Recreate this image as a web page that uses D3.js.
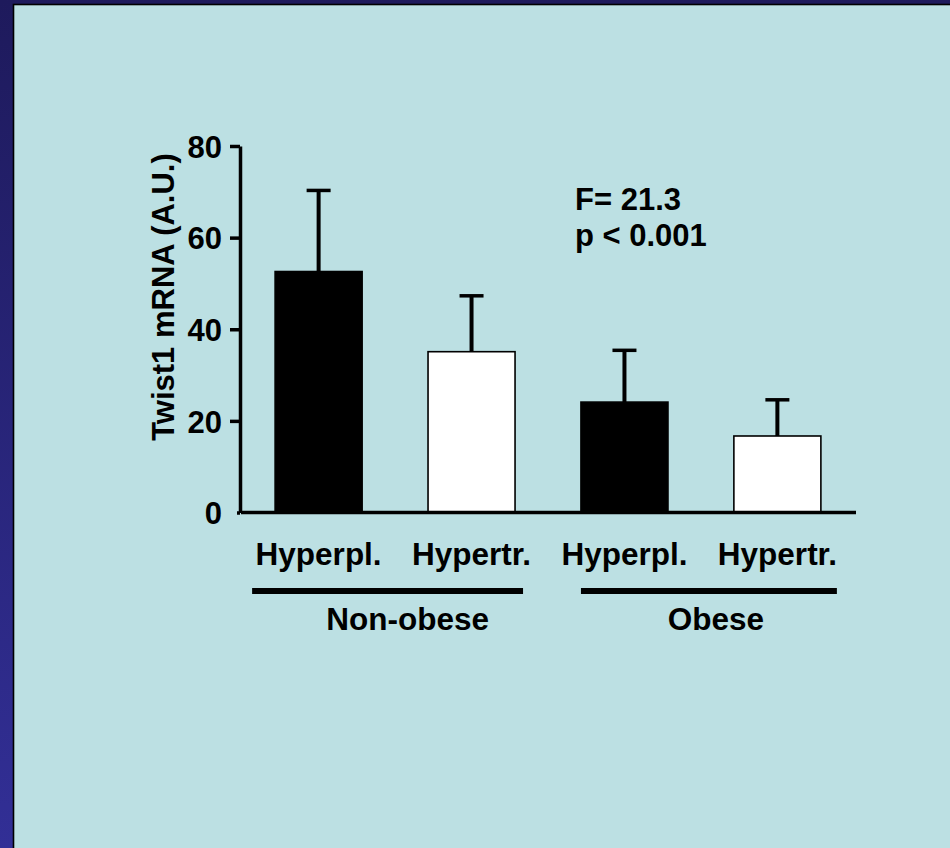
<!DOCTYPE html>
<html>
<head>
<meta charset="utf-8">
<script src="https://cdn.jsdelivr.net/npm/d3@7"></script>
<style>
  body { margin: 0; overflow: hidden; }
  svg text { font-family: "Liberation Sans", Arial, sans-serif; font-weight: bold; fill: #000; }
</style>
</head>
<body>
<div class="chart"></div>
<script>
// data
var categories = ["Hyperpl. NO", "Hypertr. NO", "Hyperpl. O", "Hypertr. O"];
var catLabels = ["Hyperpl.", "Hypertr.", "Hyperpl.", "Hypertr."];
var means = [52.6, 35.1, 24.1, 16.7];
var errors = [17.7, 12.2, 11.3, 7.9];
var fills = ["#000", "#fff", "#000", "#fff"];
var yTicks = [0, 20, 40, 60, 80];
var groupNames = ["Non-obese", "Obese"];
var groupFirst = [0, 2];
var groupLast = [1, 3];
var statLines = ["F= 21.3", "p < 0.001"];

var svgWidth = 950;
var svgHeight = 848;

var svg = d3.select(".chart")
  .append("svg")
  .attr("width", svgWidth)
  .attr("height", svgHeight);

var defs = svg.append("defs");
var grad = defs.append("linearGradient")
  .attr("id", "bg")
  .attr("x1", 0).attr("y1", 0).attr("x2", 0).attr("y2", 1);
grad.append("stop").attr("offset", "0%").attr("stop-color", "#1e1a5c");
grad.append("stop").attr("offset", "100%").attr("stop-color", "#322f96");

svg.append("rect")
  .attr("width", svgWidth).attr("height", svgHeight)
  .attr("fill", "url(#bg)");

// light panel with black edge
svg.append("rect")
  .attr("x", 13.5).attr("y", 4.5)
  .attr("width", svgWidth).attr("height", svgHeight)
  .attr("fill", "#bce0e3")
  .attr("stroke", "#000")
  .attr("stroke-width", 1.6);

var x = d3.scaleBand()
  .domain(categories)
  .range([243, 853])
  .paddingInner(0.431)
  .paddingOuter(0.21);

var y = d3.scaleLinear()
  .domain([0, 80])
  .range([512.5, 146]);

var chart = svg.append("g");

// bars
chart.selectAll("rect.bar")
  .data(means)
  .enter().append("rect")
    .attr("class", "bar")
    .attr("x", function(d, i) { return x(categories[i]); })
    .attr("y", function(d) { return y(d); })
    .attr("width", x.bandwidth())
    .attr("height", function(d) { return y(0) - y(d); })
    .attr("fill", function(d, i) { return fills[i]; })
    .attr("stroke", "#000")
    .attr("stroke-width", 1.6);

// error bars (upper only)
var capW = 24;
chart.selectAll("line.err")
  .data(means)
  .enter().append("line")
    .attr("class", "err")
    .attr("x1", function(d, i) { return x(categories[i]) + x.bandwidth() / 2; })
    .attr("x2", function(d, i) { return x(categories[i]) + x.bandwidth() / 2; })
    .attr("y1", function(d) { return y(d); })
    .attr("y2", function(d, i) { return y(d + errors[i]); })
    .attr("stroke", "#000")
    .attr("stroke-width", 4);

chart.selectAll("line.cap")
  .data(means)
  .enter().append("line")
    .attr("class", "cap")
    .attr("x1", function(d, i) { return x(categories[i]) + x.bandwidth() / 2 - capW / 2; })
    .attr("x2", function(d, i) { return x(categories[i]) + x.bandwidth() / 2 + capW / 2; })
    .attr("y1", function(d, i) { return y(d + errors[i]); })
    .attr("y2", function(d, i) { return y(d + errors[i]); })
    .attr("stroke", "#000")
    .attr("stroke-width", 3.5);

// y axis
var leftAxis = d3.axisLeft(y)
  .tickValues(yTicks)
  .tickSize(10)
  .tickSizeOuter(0)
  .tickPadding(8);

var yAxis = chart.append("g")
  .attr("transform", "translate(240,0)")
  .call(leftAxis);
yAxis.select(".domain").attr("stroke-width", 3.5);
yAxis.selectAll(".tick line").attr("stroke-width", 3.5)
  .filter(function(d) { return d === 0; }).attr("x2", -3);
yAxis.selectAll(".tick text")
  .attr("font-size", 31)
  .attr("font-family", "Liberation Sans, Arial, sans-serif")
  .attr("font-weight", "bold")
  .attr("fill", "#000")
  .attr("dy", "0.36em");

// x axis line
chart.append("line")
  .attr("x1", 241).attr("x2", 856)
  .attr("y1", y(0)).attr("y2", y(0))
  .attr("stroke", "#000")
  .attr("stroke-width", 3.5);

// category labels
chart.selectAll("text.cat")
  .data(catLabels)
  .enter().append("text")
    .attr("class", "cat")
    .attr("x", function(d, i) { return x(categories[i]) + x.bandwidth() / 2; })
    .attr("y", 565)
    .attr("text-anchor", "middle")
    .attr("font-size", 31.5)
    .text(function(d) { return d; });

// group lines and labels
var groupPad = [[-23, 8], [0, 16]];
var groupShift = [20, 7];
groupNames.forEach(function(name, g) {
  var x0 = x(categories[groupFirst[g]]) + groupPad[g][0];
  var x1 = x(categories[groupLast[g]]) + x.bandwidth() + groupPad[g][1];
  chart.append("line")
    .attr("x1", x0).attr("x2", x1)
    .attr("y1", 591).attr("y2", 591)
    .attr("stroke", "#000")
    .attr("stroke-width", 6);
  chart.append("text")
    .attr("x", (x0 + x1) / 2 + groupShift[g])
    .attr("y", 630)
    .attr("text-anchor", "middle")
    .attr("font-size", 31.5)
    .text(name);
});

// statistics
chart.selectAll("text.stat")
  .data(statLines)
  .enter().append("text")
    .attr("class", "stat")
    .attr("x", 575)
    .attr("y", function(d, i) { return 210 + i * 36; })
    .attr("font-size", 31)
    .text(function(d) { return d; });

// y axis title
chart.append("text")
  .attr("transform", "translate(174," + 297 + ") rotate(-90)")
  .attr("text-anchor", "middle")
  .attr("font-size", 31)
  .text("Twist1 mRNA (A.U.)");
</script>
</body>
</html>
